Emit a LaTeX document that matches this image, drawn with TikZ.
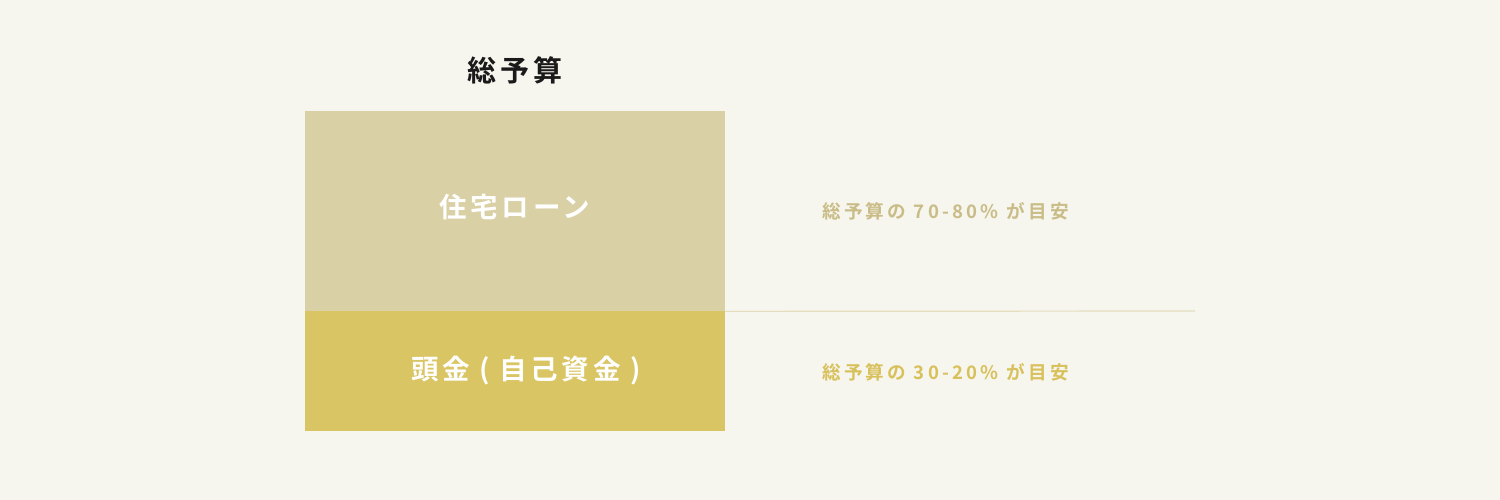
\documentclass[tikz,border=0pt]{standalone}
\usepackage{fontspec}
\newfontfamily\jpbold[LetterSpace=13]{Noto Sans CJK JP Bold}
\newfontfamily\jpsmall[LetterSpace=17.5]{Noto Sans CJK JP Bold}
\definecolor{bg}{HTML}{F6F5EE}
\definecolor{loan}{HTML}{DAD0A6}
\definecolor{down}{HTML}{DAC564}
\definecolor{rule}{HTML}{E4DDBE}
\definecolor{loantxt}{HTML}{C9BC86}
\definecolor{downtxt}{HTML}{D8C05A}
\definecolor{ink}{HTML}{1A1A1A}
\tikzset{
  block/.style={draw=none, inner sep=0pt, anchor=north west},
  bigtxt/.style={font=\jpbold\fontsize{27.5}{32}\selectfont, inner sep=0pt},
  smalltxt/.style={font=\jpsmall\fontsize{18.6}{22}\selectfont, inner sep=0pt},
}
\begin{document}
\begin{tikzpicture}[x=1pt,y=-1pt]
\fill[bg] (0,0) rectangle (1500,500);
\useasboundingbox (0,0) rectangle (1500,500);
\node[block, fill=loan, minimum width=420pt, minimum height=200pt] (loanbox) at (305,111) {};
\node[block, fill=down, minimum width=420pt, minimum height=120pt] (downbox) at (305,311) {};
\coordinate (lineend) at (1195,311);
\draw[rule, line width=1.2pt] (loanbox.south east) -- (lineend);
\node[bigtxt, text=ink, font=\jpbold\fontsize{29}{33}\selectfont] (title) at (515,70) {総予算};
\node[bigtxt, text=white] (loanlbl) at (515,207) {住宅ローン};
\node[bigtxt, text=white] (downlbl) at (526,371) {頭金 ( 自己資金 )};
\node[smalltxt, text=loantxt, anchor=west] (loannote) at (822,211) {総予算の 70-80\% が目安};
\node[smalltxt, text=downtxt, anchor=west] (downnote) at (822,372) {総予算の 30-20\% が目安};
\end{tikzpicture}
\end{document}
